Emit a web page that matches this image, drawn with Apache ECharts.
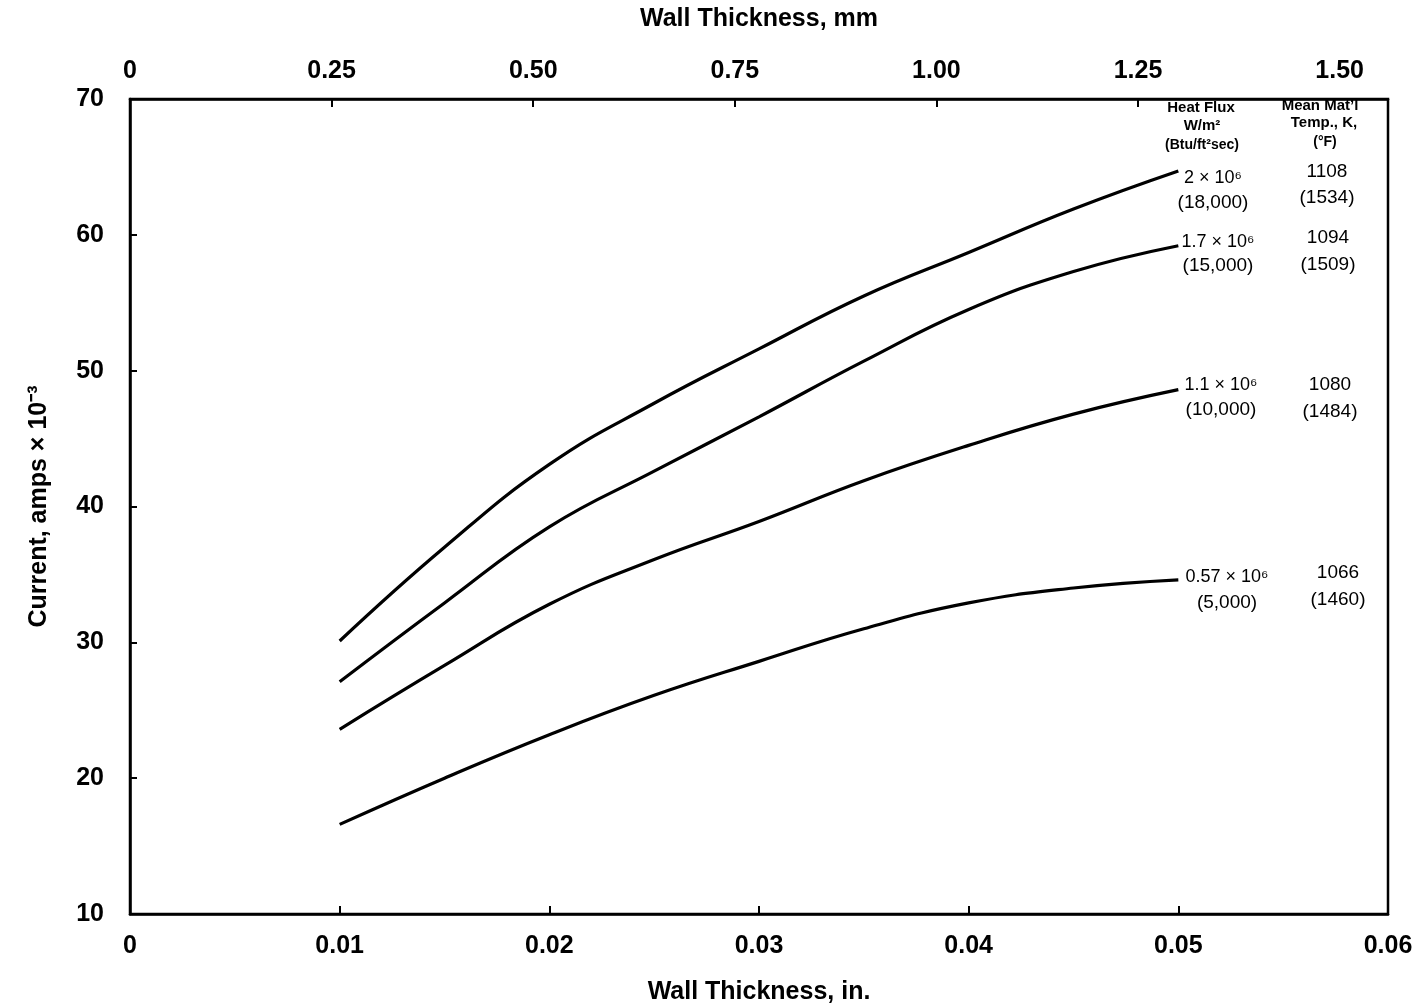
<!doctype html>
<html>
    <head>
        <meta charset="utf-8">
        <title>Current vs Wall Thickness</title>
        <style>
            html, body { margin: 0; padding: 0; background: #fff; }
            #main { width: 1415px; height: 1007px; }
        </style>
    </head>
    <body>
        <div id="main"></div>
        <script src="https://cdn.jsdelivr.net/npm/echarts@6/dist/echarts.min.js"></script>
        <script>
            // wall thickness, in.
            var thickness = [0.01, 0.015, 0.02, 0.025, 0.03, 0.035, 0.04, 0.045, 0.05];
            // current, amps x 10^-3, one list per heat flux
            var flux18000 = [30.1, 37.0, 43.1, 47.6, 51.6, 55.5, 58.7, 61.9, 64.7];
            var flux15000 = [27.1, 32.9, 38.5, 42.6, 46.6, 50.7, 54.5, 57.3, 59.2];
            var flux10000 = [23.6, 28.3, 32.8, 36.1, 38.9, 41.9, 44.5, 46.8, 48.6];
            var flux5000  = [16.6, 20.0, 23.2, 26.1, 28.6, 31.0, 32.9, 34.0, 34.6];

            var mmTicks = [0, 0.25, 0.5, 0.75, 1.0, 1.25, 1.5];
            var inTicks = [0, 0.01, 0.02, 0.03, 0.04, 0.05, 0.06];

            var fluxLabels = ['2 \u00d7 10\u2076', '1.7 \u00d7 10\u2076', '1.1 \u00d7 10\u2076', '0.57 \u00d7 10\u2076'];
            var fluxBtu = ['(18,000)', '(15,000)', '(10,000)', '(5,000)'];
            var tempK = ['1108', '1094', '1080', '1066'];
            var tempF = ['(1534)', '(1509)', '(1484)', '(1460)'];

            function pairs(ys) {
                return ys.map(function (y, i) { return [thickness[i], y]; });
            }
            function fmt(v) {
                return v === 0 ? '0' : v.toFixed(2);
            }

            var font = 'Liberation Sans, Arial, sans-serif';
            var labelStyle = { color: '#000', fontSize: 25, fontWeight: 'bold', fontFamily: font };
            var nameStyle = { color: '#000', fontSize: 25, fontWeight: 'bold', fontFamily: font };

            // annotation layout: [flux x, flux y, btu y, temp x, temp y, degF y]
            var notePos = [
                [1213, 178, 203, 1327, 172, 198],
                [1218, 242, 266, 1328, 238, 265],
                [1221, 385, 410, 1330, 385, 412],
                [1227, 577, 603, 1338, 573, 600]
            ];

            var graphics = [];
            function addText(x, y, text, size, bold) {
                graphics.push({
                    type: 'text', x: x, y: y, z: 100,
                    style: {
                        text: text, fill: '#000', align: 'center', verticalAlign: 'middle',
                        font: (bold ? 'bold ' : '') + size + 'px ' + font
                    }
                });
            }
            addText(1201, 108, 'Heat Flux', 15, true);
            addText(1202, 126, 'W/m\u00b2', 15, true);
            addText(1202, 145, '(Btu/ft\u00b2sec)', 14, true);
            addText(1320, 106, 'Mean Mat\u2019l', 15, true);
            addText(1324, 123, 'Temp., K,', 15, true);
            addText(1325, 142, '(\u00b0F)', 14, true);
            notePos.forEach(function (p, i) {
                addText(p[0], p[1], fluxLabels[i], 18, false);
                addText(p[0], p[2], fluxBtu[i], 19, false);
                addText(p[3], p[4], tempK[i], 19, false);
                addText(p[3], p[5], tempF[i], 19, false);
            });

            var chart = echarts.init(document.getElementById('main'));

            function line(data) {
                return {
                    type: 'line',
                    data: pairs(data),
                    smooth: 0.45,
                    showSymbol: false,
                    silent: true,
                    lineStyle: { color: '#000', width: 3.2 }
                };
            }

            chart.setOption({
                backgroundColor: '#fff',
                animation: false,
                grid: {
                    left: 130, right: 27, top: 99, bottom: 93,
                    outerBoundsMode: 'none',
                    containLabel: false,
                    show: true, borderColor: '#000', borderWidth: 2.5
                },
                xAxis: [{
                    type: 'value',
                    position: 'bottom',
                    min: 0, max: 0.06, interval: 0.01,
                    name: 'Wall Thickness, in.',
                    nameLocation: 'middle',
                    nameGap: 66,
                    nameTextStyle: nameStyle,
                    axisLine: { lineStyle: { color: '#000', width: 2.5 } },
                    axisTick: { inside: true, length: 8, lineStyle: { color: '#000', width: 2 },
                        customValues: [0.01, 0.02, 0.03, 0.04, 0.05] },
                    axisLabel: Object.assign({ margin: 20, formatter: fmt, customValues: inTicks }, labelStyle),
                    splitLine: { show: false }
                }, {
                    type: 'value',
                    position: 'top',
                    min: 0, max: 1.56,
                    name: 'Wall Thickness, mm',
                    nameLocation: 'middle',
                    nameGap: 67,
                    nameTextStyle: nameStyle,
                    axisLine: { lineStyle: { color: '#000', width: 2.5 } },
                    axisTick: { inside: true, length: 8, lineStyle: { color: '#000', width: 2 },
                        customValues: [0.25, 0.5, 0.75, 1.0, 1.25] },
                    axisLabel: Object.assign({ margin: 15, formatter: fmt, customValues: mmTicks }, labelStyle),
                    splitLine: { show: false }
                }],
                yAxis: {
                    type: 'value',
                    min: 10, max: 70, interval: 10,
                    name: 'Current, amps \u00d7 10\u207b\u00b3',
                    nameLocation: 'middle',
                    nameGap: 78,
                    nameTextStyle: nameStyle,
                    axisLine: { lineStyle: { color: '#000', width: 2.5 } },
                    axisTick: { inside: true, length: 7, lineStyle: { color: '#000', width: 2 },
                        customValues: [20, 30, 40, 50, 60] },
                    axisLabel: Object.assign({ margin: 26 }, labelStyle),
                    splitLine: { show: false }
                },
                series: [line(flux18000), line(flux15000), line(flux10000), line(flux5000)],
                graphic: graphics
            });
        </script>
    </body>
</html>
